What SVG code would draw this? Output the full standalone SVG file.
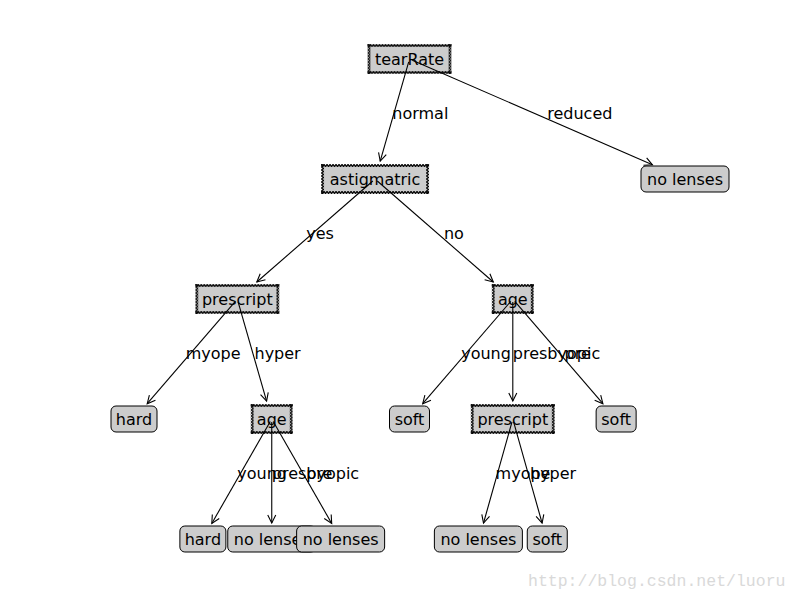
<svg xmlns="http://www.w3.org/2000/svg" width="800" height="600" viewBox="0 0 800 600">
<style>
.t{font-family:"DejaVu Sans",sans-serif;font-size:16px;fill:#000}
.n{text-anchor:middle}
.df{fill:#cccccc}
.zh{fill:url(#zh)}
.zv{fill:url(#zv)}
.lf{fill:#cccccc;stroke:#000;stroke-width:1}
.c line{stroke:#000;stroke-width:1.1;marker-end:url(#ah)}
.wm{font-family:"Liberation Mono",monospace;font-size:16.5px;fill:#d9d9d9}
</style>
<defs>
<pattern id="zh" width="3" height="3" patternUnits="userSpaceOnUse"><path d="M-0.5,-0.3 L0,0.3 L1.5,2.7 L3,0.3 L3.5,-0.3" fill="none" stroke="#000" stroke-width="1.2"/></pattern>
<pattern id="zv" width="3" height="3" patternUnits="userSpaceOnUse"><path d="M-0.3,-0.5 L0.3,0 L2.7,1.5 L0.3,3 L-0.3,3.5" fill="none" stroke="#000" stroke-width="1.2"/></pattern>
<marker id="ah" markerWidth="12" markerHeight="12" refX="0" refY="0" viewBox="-10 -6 12 12" orient="auto" markerUnits="userSpaceOnUse"><path d="M-8,-4 L0,0 L-8,4" fill="none" stroke="#000" stroke-width="1.1"/></marker>
</defs>
<rect width="800" height="600" fill="#fff"/>
<g id="nodes">
<g id="n-tearRate" transform="translate(409.5,59)">
<rect class="df" x="-40.5" y="-13.5" width="81" height="27"/>
<rect class="zh" x="-42" y="-15" width="84" height="3"/><rect class="zh" x="-42" y="12" width="84" height="3"/>
<rect class="zv" x="-42" y="-15" width="3" height="30"/><rect class="zv" x="39" y="-15" width="3" height="30"/>
<text class="t n" x="0" y="5.5">tearRate</text>
</g>
<g id="n-astigmatric" transform="translate(375.06,179)">
<rect class="df" x="-52.5" y="-13.5" width="105" height="27"/>
<rect class="zh" x="-54" y="-15" width="108" height="3"/><rect class="zh" x="-54" y="12" width="108" height="3"/>
<rect class="zv" x="-54" y="-15" width="3" height="30"/><rect class="zv" x="51" y="-15" width="3" height="30"/>
<text class="t n" x="0" y="5.5">astigmatric</text>
</g>
<g id="leaf-nolenses-0" transform="translate(685,179)">
<rect class="lf" x="-44" y="-13" width="88" height="26" rx="5"/>
<text class="t n" x="0" y="5.5">no lenses</text>
</g>
<g id="n-prescript-1" transform="translate(237.31,299)">
<rect class="df" x="-40.5" y="-13.5" width="81" height="27"/>
<rect class="zh" x="-42" y="-15" width="84" height="3"/><rect class="zh" x="-42" y="12" width="84" height="3"/>
<rect class="zv" x="-42" y="-15" width="3" height="30"/><rect class="zv" x="39" y="-15" width="3" height="30"/>
<text class="t n" x="0" y="5.5">prescript</text>
</g>
<g id="n-age-2" transform="translate(512.8,299)">
<rect class="df" x="-19.5" y="-13.5" width="39" height="27"/>
<rect class="zh" x="-21" y="-15" width="42" height="3"/><rect class="zh" x="-21" y="12" width="42" height="3"/>
<rect class="zv" x="-21" y="-15" width="3" height="30"/><rect class="zv" x="18" y="-15" width="3" height="30"/>
<text class="t n" x="0" y="5.5">age</text>
</g>
<g id="leaf-hard-1" transform="translate(134,419)">
<rect class="lf" x="-23" y="-13" width="46" height="26" rx="5"/>
<text class="t n" x="0" y="5.5">hard</text>
</g>
<g id="n-age-1" transform="translate(271.75,419)">
<rect class="df" x="-19.5" y="-13.5" width="39" height="27"/>
<rect class="zh" x="-21" y="-15" width="42" height="3"/><rect class="zh" x="-21" y="12" width="42" height="3"/>
<rect class="zv" x="-21" y="-15" width="3" height="30"/><rect class="zv" x="18" y="-15" width="3" height="30"/>
<text class="t n" x="0" y="5.5">age</text>
</g>
<g id="leaf-soft-1" transform="translate(409.5,419)">
<rect class="lf" x="-20" y="-13" width="40" height="26" rx="5"/>
<text class="t n" x="0" y="5.5">soft</text>
</g>
<g id="n-prescript-2" transform="translate(512.8,419)">
<rect class="df" x="-40.5" y="-13.5" width="81" height="27"/>
<rect class="zh" x="-42" y="-15" width="84" height="3"/><rect class="zh" x="-42" y="12" width="84" height="3"/>
<rect class="zv" x="-42" y="-15" width="3" height="30"/><rect class="zv" x="39" y="-15" width="3" height="30"/>
<text class="t n" x="0" y="5.5">prescript</text>
</g>
<g id="leaf-soft-2" transform="translate(616.125,419)">
<rect class="lf" x="-20" y="-13" width="40" height="26" rx="5"/>
<text class="t n" x="0" y="5.5">soft</text>
</g>
<g id="leaf-hard-2" transform="translate(202.875,539)">
<rect class="lf" x="-23" y="-13" width="46" height="26" rx="5"/>
<text class="t n" x="0" y="5.5">hard</text>
</g>
<g id="leaf-nolenses-1" transform="translate(271.75,539)">
<rect class="lf" x="-44" y="-13" width="88" height="26" rx="5"/>
<text class="t n" x="0" y="5.5">no lenses</text>
</g>
<g id="leaf-nolenses-2" transform="translate(340.625,539)">
<rect class="lf" x="-44" y="-13" width="88" height="26" rx="5"/>
<text class="t n" x="0" y="5.5">no lenses</text>
</g>
<g id="leaf-nolenses-3" transform="translate(478.375,539)">
<rect class="lf" x="-44" y="-13" width="88" height="26" rx="5"/>
<text class="t n" x="0" y="5.5">no lenses</text>
</g>
<g id="leaf-soft-3" transform="translate(547.25,539)">
<rect class="lf" x="-20" y="-13" width="40" height="26" rx="5"/>
<text class="t n" x="0" y="5.5">soft</text>
</g>
</g>
<g id="connectors" class="c">
<line x1="408.7" y1="61.9" x2="380.2" y2="161.1"/>
<line x1="412.3" y1="60.2" x2="652.4" y2="164.8"/>
<line x1="372.8" y1="181" x2="256.8" y2="282"/>
<line x1="377.3" y1="181" x2="493.3" y2="282"/>
<line x1="235.35" y1="301.3" x2="147.2" y2="403.7"/>
<line x1="238.1" y1="301.9" x2="266.6" y2="401.1"/>
<line x1="510.8" y1="301.3" x2="422.7" y2="403.7"/>
<line x1="512.8" y1="302" x2="512.8" y2="401"/>
<line x1="514.8" y1="301.3" x2="602.9" y2="403.7"/>
<line x1="270.26" y1="421.6" x2="211.8" y2="523.4"/>
<line x1="271.75" y1="422" x2="271.75" y2="523"/>
<line x1="273.24" y1="421.6" x2="331.7" y2="523.4"/>
<line x1="512" y1="421.9" x2="483.5" y2="523.1"/>
<line x1="513.6" y1="421.9" x2="542.1" y2="523.1"/>
</g>
<g id="labels" class="t">
<text x="392.3" y="119">normal</text>
<text x="547.25" y="119">reduced</text>
<text x="306.2" y="239">yes</text>
<text x="443.9" y="239">no</text>
<text x="185.7" y="359">myope</text>
<text x="254.5" y="359">hyper</text>
<text x="461.2" y="359">young</text>
<text x="512.8" y="359">presbyopic</text>
<text x="564.5" y="359">pre</text>
<text x="237.3" y="479">young</text>
<text x="271.75" y="479">presbyopic</text>
<text x="306.2" y="479">pre</text>
<text x="495.6" y="479">myope</text>
<text x="530" y="479">hyper</text>
</g>
<text class="wm" x="528" y="586">http://blog.csdn.net/luoru</text>
</svg>
